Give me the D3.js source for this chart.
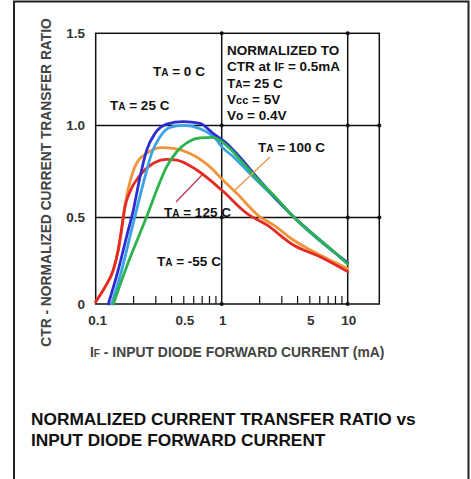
<!DOCTYPE html>
<html>
<head>
<meta charset="utf-8">
<script src="https://cdn.jsdelivr.net/npm/d3@7"></script>
<style>
  html, body { margin: 0; padding: 0; background: #fff; }
  svg { display: block; font-family: "Liberation Sans", Arial, sans-serif; font-weight: bold; }
</style>
</head>
<body>
<div id="chart"></div>
<script>
// -------------------------------------------------------------------------
// Data

// TA = 125 C
const current125 = [0.1, 0.119, 0.138, 0.151, 0.161, 0.171, 0.187, 0.225, 0.286, 0.366, 0.44, 0.634, 1.0, 1.58, 2.28, 3.7, 6.03, 10];
const ctr125 = [0.013, 0.10, 0.197, 0.312, 0.439, 0.559, 0.640, 0.730, 0.794, 0.816, 0.812, 0.758, 0.649, 0.523, 0.457, 0.341, 0.273, 0.187];

// TA = 100 C (runs under the 125 C curve at low current)
const current100 = [0.1, 0.119, 0.138, 0.151, 0.161, 0.171, 0.187, 0.211, 0.254, 0.334, 0.413, 0.56, 0.808, 1.0, 1.315, 2.01, 2.57, 3.7, 6.03, 10];
const ctr100 = [0.013, 0.10, 0.197, 0.312, 0.439, 0.57, 0.694, 0.794, 0.848, 0.879, 0.875, 0.848, 0.775, 0.71, 0.631, 0.504, 0.457, 0.370, 0.283, 0.205];

// TA = 25 C
const current25 = [0.134, 0.161, 0.187, 0.211, 0.246, 0.278, 0.324, 0.389, 0.496, 0.673, 0.913, 1.0, 1.236, 1.677, 2.28, 3.08, 4.18, 5.67, 7.69, 10];
const ctr25 = [0, 0.197, 0.39, 0.541, 0.721, 0.848, 0.938, 0.989, 1.0, 0.982, 0.92, 0.885, 0.83, 0.738, 0.649, 0.559, 0.467, 0.380, 0.302, 0.240];

// TA = 0 C
const current0 = [0.126, 0.151, 0.176, 0.199, 0.225, 0.254, 0.296, 0.366, 0.496, 0.673, 0.858, 1.096, 1.3, 2.01, 3.7, 6.03, 10];
const ctr0 = [0, 0.197, 0.39, 0.541, 0.721, 0.866, 0.957, 1.007, 1.02, 1.011, 0.955, 0.902, 0.85, 0.70, 0.505, 0.37, 0.235];

// TA = -55 C
const currentM55 = [0.138, 0.176, 0.225, 0.254, 0.305, 0.366, 0.44, 0.528, 0.673, 0.858, 1.0, 1.16, 1.485, 2.01, 2.73, 3.70, 5.02, 7.22, 10];
const ctrM55 = [0, 0.216, 0.41, 0.505, 0.649, 0.776, 0.857, 0.905, 0.932, 0.935, 0.912, 0.875, 0.794, 0.694, 0.604, 0.504, 0.418, 0.322, 0.230];

// Axis ticks
const xTickValues = [0.1, 0.5, 1, 5, 10];
const xTickLabels = ['0.1', '0.5', '1', '5', '10'];
const xMinorTicks = [0.2, 0.3, 0.4, 0.5, 0.6, 0.7, 0.8, 0.9, 2, 3, 4, 5, 6, 7, 8, 9];
const xGrid = [1, 10];
const yTickValues = [0, 0.5, 1.0, 1.5];
const yTickLabels = ['0', '0.5', '1.0', '1.5'];
const yGrid = [0.5, 1.0];

// -------------------------------------------------------------------------
// Layout

const width = 471;
const height = 479;
const plot = { left: 95.7, right: 379.3, top: 33.3, bottom: 304 };

const svg = d3.select('#chart').append('svg')
  .attr('width', width)
  .attr('height', height);

// page frame
svg.append('path')
  .attr('d', `M14,${height + 2} V1.5 H468.5 V${height + 2}`)
  .attr('fill', 'none')
  .attr('stroke', '#222')
  .attr('stroke-width', 2);

const x = d3.scaleLog()
  .domain([0.1, Math.pow(10, 1 + (plot.right - 347.7) / 126)])
  .range([plot.left, plot.right]);

// the printed grid is a little tighter below 0.5
const y = d3.scaleLinear()
  .domain([0, 0.5, 1.5])
  .range([plot.bottom, 217.5, plot.top]);

// -------------------------------------------------------------------------
// Grid and frame of the plot

const grid = svg.append('g');

grid.selectAll('line.gx')
  .data(xGrid)
  .enter().append('line')
  .attr('x1', d => x(d)).attr('x2', d => x(d))
  .attr('y1', plot.top).attr('y2', plot.bottom)
  .attr('stroke', '#111').attr('stroke-width', 1.5);

grid.selectAll('line.gy')
  .data(yGrid)
  .enter().append('line')
  .attr('x1', plot.left).attr('x2', plot.right)
  .attr('y1', d => y(d)).attr('y2', d => y(d))
  .attr('stroke', '#111').attr('stroke-width', 1.5);

grid.append('rect')
  .attr('x', plot.left).attr('y', plot.top)
  .attr('width', plot.right - plot.left)
  .attr('height', plot.bottom - plot.top)
  .attr('fill', 'none')
  .attr('stroke', '#111')
  .attr('stroke-width', 1.5);

// small dots where the grid lines meet
let joints = [];
xGrid.forEach(gx => {
  joints.push([gx, 0], [gx, 1.5]);
  yGrid.forEach(gy => joints.push([gx, gy]));
});
yGrid.forEach(gy => joints.push([x.domain()[1], gy]));
grid.selectAll('circle')
  .data(joints)
  .enter().append('circle')
  .attr('cx', d => x(d[0]))
  .attr('cy', d => y(d[1]))
  .attr('r', 2)
  .attr('fill', '#111');

// minor ticks along the bottom, pointing in
grid.selectAll('line.minor')
  .data(xMinorTicks)
  .enter().append('line')
  .attr('x1', d => x(d)).attr('x2', d => x(d))
  .attr('y1', plot.bottom).attr('y2', plot.bottom - 8)
  .attr('stroke', '#111').attr('stroke-width', 1.2);

// -------------------------------------------------------------------------
// Tick labels

svg.append('g').selectAll('text')
  .data(xTickValues)
  .enter().append('text')
  .attr('x', d => x(d) + (d === 0.1 ? 2 : 1))
  .attr('y', 325)
  .attr('text-anchor', 'middle')
  .attr('font-size', 13.5)
  .attr('fill', '#333')
  .text((d, i) => xTickLabels[i]);

svg.append('g').selectAll('text')
  .data(yTickValues)
  .enter().append('text')
  .attr('x', 85)
  .attr('y', d => y(d) + 4.8)
  .attr('text-anchor', 'end')
  .attr('font-size', 13.5)
  .attr('fill', '#333')
  .text((d, i) => yTickLabels[i]);

// -------------------------------------------------------------------------
// Axis titles

svg.append('text')
  .attr('transform', 'translate(51,182.5) rotate(-90)')
  .attr('text-anchor', 'middle')
  .attr('font-size', 13.8)
  .attr('fill', '#444')
  .text('CTR - NORMALIZED CURRENT TRANSFER RATIO');

const xTitle = svg.append('text')
  .attr('x', 90)
  .attr('y', 356.5)
  .attr('font-size', 13.9)
  .attr('fill', '#444');
xTitle.append('tspan').text('I');
xTitle.append('tspan').attr('font-size', 10).text('F');
xTitle.append('tspan').text(' - INPUT DIODE FORWARD CURRENT (mA)');

// -------------------------------------------------------------------------
// Curves

const line = d3.line()
  .x(d => x(d[0]))
  .y(d => y(d[1]))
  .curve(d3.curveMonotoneX);

const curves = [
  { current: current100, ctr: ctr100, color: '#f0953a' },
  { current: current125, ctr: ctr125, color: '#e52a24' },
  { current: current25, ctr: ctr25, color: '#3aa3e8' },
  { current: current0, ctr: ctr0, color: '#2b2fd2' },
  { current: currentM55, ctr: ctrM55, color: '#2db34e' }
];

svg.append('g').selectAll('path')
  .data(curves)
  .enter().append('path')
  .attr('d', c => line(c.current.map((v, i) => [v, c.ctr[i]])))
  .attr('fill', 'none')
  .attr('stroke', c => c.color)
  .attr('stroke-width', 2.8)
  .attr('stroke-linecap', 'round');

// leader lines from labels to curves
svg.append('line')
  .attr('x1', 235).attr('y1', 190).attr('x2', 270).attr('y2', 157)
  .attr('stroke', '#e89a4c').attr('stroke-width', 1.3);
svg.append('line')
  .attr('x1', 176).attr('y1', 202).attr('x2', 202).attr('y2', 175)
  .attr('stroke', '#c23a4e').attr('stroke-width', 1.3);

// -------------------------------------------------------------------------
// Labels

function tempLabel(px, py, value) {
  let t = svg.append('text')
    .attr('x', px).attr('y', py)
    .attr('font-size', 13.5)
    .attr('fill', '#111');
  t.append('tspan').text('T');
  t.append('tspan').attr('font-size', 10).text('A');
  t.append('tspan').text(value);
  return t;
}

tempLabel(153, 76, ' = 0 C');
tempLabel(110, 109.5, ' = 25 C');
tempLabel(258, 151.5, ' = 100 C');
tempLabel(164, 217, ' = 125 C');
tempLabel(157, 265.5, ' = -55 C');

const note = svg.append('g')
  .attr('font-size', 13.5)
  .attr('fill', '#111');
const noteY = [55, 71, 87.5, 104, 120];

note.append('text').attr('x', 227).attr('y', noteY[0]).text('NORMALIZED TO');
let n2 = note.append('text').attr('x', 227).attr('y', noteY[1]);
n2.append('tspan').text('CTR at I');
n2.append('tspan').attr('font-size', 10).text('F');
n2.append('tspan').text(' = 0.5mA');
let n3 = note.append('text').attr('x', 227).attr('y', noteY[2]);
n3.append('tspan').text('T');
n3.append('tspan').attr('font-size', 10).text('A');
n3.append('tspan').text('= 25 C');
let n4 = note.append('text').attr('x', 227).attr('y', noteY[3]);
n4.append('tspan').text('V');
n4.append('tspan').attr('font-size', 11).text('cc');
n4.append('tspan').text(' = 5V');
let n5 = note.append('text').attr('x', 227).attr('y', noteY[4]);
n5.append('tspan').text('V');
n5.append('tspan').attr('font-size', 12).text('o');
n5.append('tspan').text(' = 0.4V');

// -------------------------------------------------------------------------
// Caption

const caption = svg.append('g')
  .attr('font-size', 17.3)
  .attr('fill', '#111');
caption.append('text').attr('x', 31).attr('y', 425)
  .text('NORMALIZED CURRENT TRANSFER RATIO vs');
caption.append('text').attr('x', 31).attr('y', 445.5)
  .text('INPUT DIODE FORWARD CURRENT');
</script>
</body>
</html>
